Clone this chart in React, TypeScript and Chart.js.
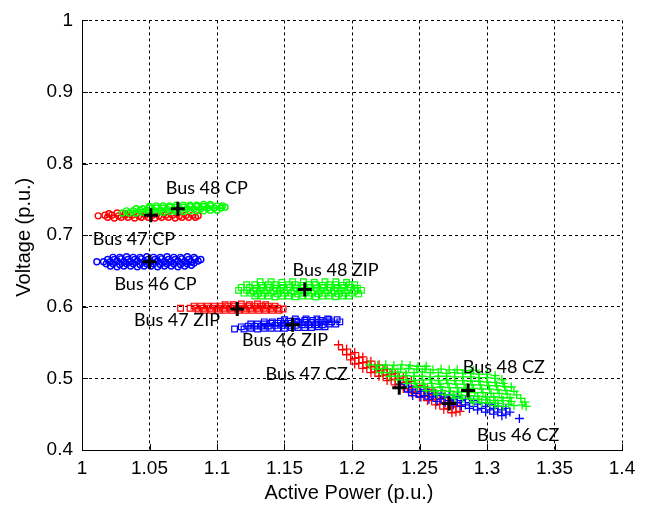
import { useEffect, useRef } from 'react';
import { Chart, registerables } from 'chart.js';

Chart.register(...registerables);

// ---- axis ticks ----
const xTickValues = [1, 1.05, 1.1, 1.15, 1.2, 1.25, 1.3, 1.35, 1.4];
const xTickLabels = ['1', '1.05', '1.1', '1.15', '1.2', '1.25', '1.3', '1.35', '1.4'];
const yTickValues = [0.4, 0.5, 0.6, 0.7, 0.8, 0.9, 1];
const yTickLabels = ['0.4', '0.5', '0.6', '0.7', '0.8', '0.9', '1'];
const xTitle = 'Active Power (p.u.)';
const yTitle = 'Voltage (p.u.)';

// ---- CP (constant power) clusters ----
const bus46CP = [
  [1.011, 0.663],
  [1.021, 0.657], [1.026, 0.656], [1.031, 0.657], [1.036, 0.657], [1.041, 0.656], [1.046, 0.657], [1.051, 0.657],
  [1.056, 0.656], [1.061, 0.657], [1.066, 0.657], [1.071, 0.656], [1.076, 0.657], [1.081, 0.658],
  [1.018, 0.660], [1.023, 0.660], [1.028, 0.659], [1.033, 0.660], [1.038, 0.660], [1.043, 0.659], [1.048, 0.660],
  [1.053, 0.660], [1.058, 0.659], [1.063, 0.660], [1.068, 0.660], [1.073, 0.659], [1.078, 0.660], [1.083, 0.661],
  [1.016, 0.663], [1.021, 0.663], [1.026, 0.664], [1.031, 0.663], [1.036, 0.663], [1.041, 0.664], [1.046, 0.663],
  [1.051, 0.663], [1.056, 0.664], [1.061, 0.663], [1.066, 0.663], [1.071, 0.664], [1.076, 0.663], [1.081, 0.663], [1.086, 0.664],
  [1.019, 0.666], [1.024, 0.666], [1.029, 0.667], [1.034, 0.666], [1.039, 0.666], [1.044, 0.667], [1.049, 0.666],
  [1.054, 0.666], [1.059, 0.667], [1.064, 0.666], [1.069, 0.666], [1.074, 0.667], [1.079, 0.666], [1.084, 0.667], [1.088, 0.666],
  [1.023, 0.669], [1.028, 0.669], [1.033, 0.670], [1.038, 0.669], [1.043, 0.669], [1.048, 0.670], [1.053, 0.669],
  [1.058, 0.669], [1.063, 0.670], [1.068, 0.669], [1.073, 0.669], [1.078, 0.670], [1.083, 0.669],
];
const bus47CP = [
  [1.012, 0.727],
  [1.019, 0.725], [1.024, 0.724], [1.029, 0.725], [1.034, 0.725], [1.039, 0.724], [1.044, 0.725], [1.049, 0.725],
  [1.054, 0.724], [1.059, 0.725], [1.064, 0.725], [1.069, 0.724], [1.074, 0.725], [1.079, 0.725], [1.084, 0.725],
  [1.017, 0.728], [1.022, 0.728], [1.027, 0.727], [1.032, 0.728], [1.037, 0.728], [1.042, 0.727], [1.047, 0.728],
  [1.052, 0.728], [1.057, 0.727], [1.062, 0.728], [1.067, 0.728], [1.072, 0.727], [1.077, 0.728], [1.082, 0.728], [1.086, 0.727],
  [1.020, 0.730], [1.026, 0.731], [1.032, 0.730],
];
const bus48CP = [
  [1.030, 0.731], [1.035, 0.731], [1.040, 0.731], [1.045, 0.732], [1.050, 0.732], [1.055, 0.732], [1.060, 0.732],
  [1.065, 0.733], [1.070, 0.733], [1.075, 0.733], [1.080, 0.734], [1.085, 0.734], [1.090, 0.734], [1.095, 0.735], [1.100, 0.735],
  [1.033, 0.734], [1.038, 0.734], [1.043, 0.735], [1.048, 0.735], [1.053, 0.735], [1.058, 0.735], [1.063, 0.736],
  [1.068, 0.736], [1.073, 0.736], [1.078, 0.737], [1.083, 0.737], [1.088, 0.737], [1.093, 0.738], [1.098, 0.738],
  [1.103, 0.738], [1.106, 0.739],
  [1.040, 0.737], [1.045, 0.737], [1.050, 0.738], [1.055, 0.738], [1.060, 0.738], [1.065, 0.739], [1.070, 0.739],
  [1.075, 0.739], [1.080, 0.740], [1.085, 0.740], [1.090, 0.740], [1.095, 0.741], [1.100, 0.741], [1.104, 0.741],
  [1.050, 0.740], [1.055, 0.741], [1.060, 0.741], [1.065, 0.741], [1.070, 0.742], [1.075, 0.742], [1.080, 0.742],
  [1.085, 0.742], [1.090, 0.743], [1.095, 0.743],
];

// ---- ZIP clusters ----
const bus46ZIP = [
  [1.113, 0.569], [1.120, 0.569], [1.125, 0.570], [1.130, 0.569], [1.135, 0.570], [1.140, 0.570], [1.145, 0.570],
  [1.150, 0.570], [1.155, 0.571], [1.160, 0.571], [1.165, 0.571], [1.170, 0.571], [1.175, 0.572], [1.180, 0.572],
  [1.118, 0.572], [1.123, 0.573], [1.128, 0.573], [1.133, 0.573], [1.138, 0.573], [1.143, 0.574], [1.148, 0.574],
  [1.153, 0.574], [1.158, 0.574], [1.163, 0.575], [1.168, 0.575], [1.173, 0.575], [1.178, 0.575], [1.183, 0.576], [1.188, 0.576],
  [1.125, 0.576], [1.130, 0.576], [1.135, 0.576], [1.140, 0.577], [1.145, 0.577], [1.150, 0.577], [1.155, 0.577],
  [1.160, 0.578], [1.165, 0.578], [1.170, 0.578], [1.175, 0.578], [1.180, 0.579], [1.185, 0.579], [1.191, 0.579],
  [1.135, 0.579], [1.141, 0.579], [1.147, 0.580], [1.153, 0.580], [1.159, 0.580], [1.165, 0.581], [1.171, 0.581],
  [1.177, 0.581], [1.183, 0.582], [1.189, 0.582],
  [1.150, 0.582], [1.158, 0.583], [1.166, 0.583], [1.174, 0.583], [1.182, 0.583],
];
const bus47ZIP = [
  [1.086, 0.595], [1.091, 0.595], [1.096, 0.595], [1.101, 0.595], [1.106, 0.595], [1.111, 0.595], [1.116, 0.595],
  [1.121, 0.595], [1.126, 0.595], [1.131, 0.595], [1.136, 0.595], [1.141, 0.595], [1.146, 0.595],
  [1.073, 0.598], [1.080, 0.598], [1.085, 0.598], [1.090, 0.598], [1.095, 0.598], [1.100, 0.598], [1.105, 0.598],
  [1.110, 0.598], [1.115, 0.598], [1.120, 0.598], [1.125, 0.598], [1.130, 0.598], [1.135, 0.598], [1.140, 0.598],
  [1.145, 0.598], [1.149, 0.597],
  [1.083, 0.601], [1.088, 0.601], [1.093, 0.601], [1.098, 0.601], [1.103, 0.601], [1.108, 0.601], [1.113, 0.601],
  [1.118, 0.601], [1.123, 0.601], [1.128, 0.601], [1.133, 0.601], [1.138, 0.601], [1.143, 0.601],
  [1.106, 0.603], [1.112, 0.603], [1.118, 0.604], [1.124, 0.603], [1.130, 0.604], [1.136, 0.603],
];
const bus48ZIP = [
  [1.128, 0.615], [1.133, 0.615], [1.138, 0.615], [1.143, 0.614], [1.148, 0.615], [1.153, 0.615], [1.158, 0.614],
  [1.163, 0.615], [1.168, 0.615], [1.173, 0.614], [1.178, 0.615], [1.183, 0.615], [1.188, 0.614], [1.193, 0.615], [1.198, 0.615],
  [1.120, 0.619], [1.125, 0.619], [1.130, 0.618], [1.135, 0.619], [1.140, 0.619], [1.145, 0.618], [1.150, 0.619],
  [1.155, 0.619], [1.160, 0.618], [1.165, 0.619], [1.170, 0.619], [1.175, 0.618], [1.180, 0.619], [1.185, 0.619],
  [1.190, 0.618], [1.195, 0.619], [1.200, 0.619], [1.205, 0.618],
  [1.116, 0.623], [1.122, 0.623], [1.127, 0.622], [1.132, 0.623], [1.137, 0.623], [1.142, 0.622], [1.147, 0.623],
  [1.152, 0.623], [1.157, 0.622], [1.162, 0.623], [1.167, 0.623], [1.172, 0.622], [1.177, 0.623], [1.182, 0.623],
  [1.187, 0.622], [1.192, 0.623], [1.197, 0.623], [1.202, 0.622], [1.207, 0.623],
  [1.118, 0.627], [1.124, 0.627], [1.129, 0.626], [1.134, 0.627], [1.139, 0.627], [1.144, 0.626], [1.149, 0.627],
  [1.154, 0.627], [1.159, 0.626], [1.164, 0.627], [1.169, 0.627], [1.174, 0.626], [1.179, 0.627], [1.184, 0.627],
  [1.189, 0.626], [1.194, 0.627], [1.199, 0.627], [1.204, 0.626],
  [1.122, 0.631], [1.128, 0.631], [1.133, 0.630], [1.138, 0.631], [1.143, 0.631], [1.148, 0.630], [1.153, 0.631],
  [1.158, 0.631], [1.163, 0.630], [1.168, 0.631], [1.173, 0.631], [1.178, 0.630], [1.183, 0.631], [1.188, 0.631],
  [1.193, 0.630], [1.198, 0.631], [1.202, 0.631],
  [1.132, 0.635], [1.140, 0.635], [1.148, 0.634], [1.156, 0.635], [1.164, 0.635], [1.172, 0.634], [1.180, 0.635],
  [1.188, 0.635], [1.196, 0.634],
];

// ---- CZ (constant impedance) clusters ----
const bus46CZ = [
  [1.236, 0.492], [1.242, 0.489], [1.248, 0.487], [1.254, 0.484], [1.260, 0.482], [1.266, 0.479], [1.272, 0.477],
  [1.278, 0.474], [1.284, 0.471], [1.290, 0.469], [1.296, 0.466], [1.302, 0.464], [1.308, 0.461], [1.314, 0.458],
  [1.239, 0.487], [1.245, 0.484], [1.251, 0.482], [1.257, 0.479], [1.263, 0.476], [1.269, 0.474], [1.275, 0.471],
  [1.281, 0.469], [1.287, 0.466], [1.293, 0.464], [1.299, 0.461], [1.305, 0.458], [1.311, 0.456], [1.317, 0.453],
  [1.242, 0.481], [1.248, 0.479], [1.254, 0.476], [1.260, 0.474], [1.266, 0.471], [1.272, 0.469], [1.278, 0.466],
  [1.284, 0.463], [1.290, 0.461], [1.296, 0.458], [1.302, 0.456], [1.308, 0.453], [1.314, 0.450],
  [1.245, 0.476], [1.251, 0.474], [1.257, 0.471], [1.263, 0.468], [1.269, 0.466], [1.275, 0.463], [1.281, 0.461],
  [1.287, 0.458], [1.293, 0.456], [1.299, 0.453], [1.305, 0.450], [1.311, 0.448],
  [1.324, 0.444],
];
const bus47CZ = [
  [1.190, 0.547], [1.196, 0.541], [1.202, 0.536], [1.208, 0.530], [1.214, 0.524], [1.220, 0.519], [1.226, 0.513],
  [1.232, 0.507], [1.238, 0.502], [1.244, 0.496], [1.250, 0.490], [1.256, 0.485], [1.262, 0.479], [1.268, 0.473],
  [1.274, 0.468], [1.280, 0.462],
  [1.193, 0.540], [1.199, 0.534], [1.205, 0.529], [1.211, 0.523], [1.217, 0.517], [1.223, 0.512], [1.229, 0.506],
  [1.235, 0.500], [1.241, 0.495], [1.247, 0.489], [1.253, 0.483], [1.259, 0.478], [1.265, 0.472], [1.271, 0.466], [1.277, 0.461],
  [1.196, 0.533], [1.202, 0.528], [1.208, 0.522], [1.214, 0.516], [1.220, 0.511], [1.226, 0.505], [1.232, 0.499],
  [1.238, 0.494], [1.244, 0.488], [1.250, 0.482], [1.256, 0.477], [1.262, 0.471], [1.268, 0.465], [1.274, 0.460], [1.280, 0.454],
  [1.199, 0.526], [1.205, 0.521], [1.211, 0.515], [1.217, 0.509], [1.223, 0.504], [1.229, 0.498], [1.235, 0.492],
  [1.241, 0.487], [1.247, 0.481], [1.253, 0.475], [1.259, 0.470], [1.265, 0.464], [1.271, 0.458], [1.277, 0.453],
  [1.202, 0.520], [1.208, 0.514], [1.214, 0.508], [1.220, 0.503], [1.226, 0.497], [1.232, 0.491], [1.238, 0.486],
  [1.244, 0.480], [1.250, 0.474], [1.256, 0.469], [1.262, 0.463], [1.268, 0.457], [1.274, 0.452],
];
const bus48CZ = [
  [1.213, 0.519], [1.219, 0.518], [1.225, 0.519], [1.231, 0.518], [1.237, 0.519], [1.243, 0.518], [1.249, 0.517], [1.255, 0.517],
  [1.218, 0.513], [1.224, 0.514], [1.230, 0.513], [1.236, 0.513], [1.242, 0.514], [1.248, 0.513], [1.254, 0.513],
  [1.260, 0.512], [1.266, 0.513], [1.272, 0.512], [1.278, 0.512], [1.284, 0.511], [1.290, 0.511],
  [1.222, 0.508], [1.228, 0.508], [1.234, 0.509], [1.240, 0.508], [1.246, 0.508], [1.252, 0.509], [1.258, 0.508],
  [1.264, 0.508], [1.270, 0.507], [1.276, 0.508], [1.282, 0.507], [1.288, 0.507], [1.294, 0.506], [1.300, 0.506], [1.306, 0.504],
  [1.228, 0.503], [1.234, 0.503], [1.240, 0.504], [1.246, 0.503], [1.252, 0.503], [1.258, 0.502], [1.264, 0.503],
  [1.270, 0.503], [1.276, 0.502], [1.282, 0.502], [1.288, 0.502], [1.294, 0.501], [1.300, 0.501], [1.306, 0.500], [1.311, 0.498],
  [1.234, 0.498], [1.240, 0.498], [1.246, 0.497], [1.252, 0.498], [1.258, 0.498], [1.264, 0.497], [1.270, 0.498],
  [1.276, 0.497], [1.282, 0.497], [1.288, 0.496], [1.294, 0.496], [1.300, 0.495], [1.306, 0.494], [1.312, 0.493],
  [1.241, 0.493], [1.247, 0.493], [1.253, 0.492], [1.259, 0.493], [1.265, 0.492], [1.271, 0.493], [1.277, 0.492],
  [1.283, 0.492], [1.289, 0.491], [1.295, 0.491], [1.301, 0.490], [1.307, 0.490], [1.313, 0.489], [1.318, 0.488],
  [1.248, 0.488], [1.254, 0.488], [1.260, 0.487], [1.266, 0.488], [1.272, 0.487], [1.278, 0.487], [1.284, 0.486],
  [1.290, 0.486], [1.296, 0.485], [1.302, 0.485], [1.308, 0.484], [1.314, 0.483], [1.320, 0.482],
  [1.255, 0.483], [1.261, 0.482], [1.267, 0.483], [1.273, 0.482], [1.279, 0.481], [1.285, 0.481], [1.291, 0.480],
  [1.297, 0.480], [1.303, 0.479], [1.309, 0.479], [1.315, 0.478], [1.322, 0.477],
  [1.263, 0.478], [1.269, 0.477], [1.275, 0.477], [1.281, 0.476], [1.287, 0.476], [1.293, 0.475], [1.299, 0.474],
  [1.305, 0.474], [1.311, 0.473], [1.317, 0.473], [1.325, 0.472],
  [1.276, 0.473], [1.282, 0.472], [1.288, 0.471], [1.294, 0.471], [1.300, 0.470], [1.306, 0.469], [1.312, 0.469],
  [1.318, 0.468], [1.328, 0.467],
  [1.290, 0.467], [1.296, 0.466], [1.302, 0.466], [1.308, 0.465], [1.316, 0.464], [1.326, 0.463],
  [1.306, 0.462], [1.312, 0.461], [1.320, 0.462], [1.329, 0.461],
];

// ---- mean operating points (black +) ----
const meanX = [1.071, 1.051, 1.050, 1.165, 1.115, 1.156, 1.235, 1.286, 1.272];
const meanY = [0.737, 0.728, 0.663, 0.624, 0.597, 0.575, 0.487, 0.483, 0.465];

// ---- text labels (data coordinates of left edge / vertical centre) ----
const labelTexts = ['Bus 48 CP', 'Bus 47 CP', 'Bus 46 CP', 'Bus 48 ZIP', 'Bus 47 ZIP', 'Bus 46 ZIP', 'Bus 47 CZ', 'Bus 48 CZ', 'Bus 46 CZ'];
const labelX = [1.062, 1.008, 1.024, 1.156, 1.0385, 1.1185, 1.136, 1.282, 1.2926];
const labelY = [0.765, 0.6946, 0.6314, 0.6506, 0.582, 0.553, 0.506, 0.5158, 0.421];

const RED = '#ff0000';
const GREEN = '#00ff00';
const BLUE = '#0000ff';

const toPts = (arr: number[][]) => arr.map(([x, y]) => ({ x, y }));

const TICK_FONT = { family: "'Liberation Sans', Arial, sans-serif", size: 19 };

const decorPlugin = {
  id: 'decor',
  afterDraw(chart: any) {
    const { ctx, chartArea, scales } = chart;
    const xs = scales.x;
    const ys = scales.y;
    ctx.save();
    // inward tick marks
    ctx.strokeStyle = '#000';
    ctx.lineWidth = 1;
    ctx.setLineDash([]);
    ctx.beginPath();
    xTickValues.forEach((v) => {
      const px = Math.round(xs.getPixelForValue(v)) + 0.5;
      ctx.moveTo(px, chartArea.bottom);
      ctx.lineTo(px, chartArea.bottom - 6);
    });
    yTickValues.forEach((v) => {
      const py = Math.round(ys.getPixelForValue(v)) + 0.5;
      ctx.moveTo(chartArea.left, py);
      ctx.lineTo(chartArea.left + 6, py);
    });
    ctx.stroke();
    // axis titles
    ctx.fillStyle = '#000';
    ctx.font = "20px 'Liberation Sans', Arial, sans-serif";
    ctx.textAlign = 'center';
    ctx.textBaseline = 'middle';
    ctx.fillText(xTitle, (chartArea.left + chartArea.right) / 2 - 3, 493);
    ctx.save();
    ctx.translate(24, (chartArea.top + chartArea.bottom) / 2 + 2);
    ctx.rotate(-Math.PI / 2);
    ctx.fillText(yTitle, 0, 0);
    ctx.restore();
    // cluster labels
    ctx.font = "18px Lato, 'Open Sans', sans-serif";
    ctx.textAlign = 'left';
    ctx.textBaseline = 'middle';
    labelTexts.forEach((t, i) => {
      ctx.fillText(t, xs.getPixelForValue(labelX[i]), ys.getPixelForValue(labelY[i]));
    });
    ctx.restore();
  },
};

export default function App() {
  const ref = useRef<HTMLCanvasElement>(null);
  useEffect(() => {
    if (!ref.current) return;
    const mk = (data: number[][], color: string, style: string, radius: number, bw: number, order: number) => ({
      data: toPts(data),
      pointStyle: style,
      pointRadius: radius,
      pointBorderWidth: bw,
      borderColor: color,
      backgroundColor: 'rgba(0,0,0,0)',
      showLine: false,
      order,
    });
    const chart = new Chart(ref.current, {
      type: 'scatter',
      data: {
        datasets: [
          {
            data: meanX.map((x, i) => ({ x, y: meanY[i] })),
            pointStyle: 'cross',
            pointRadius: 7,
            pointBorderWidth: 3,
            borderColor: '#000',
            backgroundColor: '#000',
            showLine: false,
            order: 0,
          } as any,
          mk(bus48CP, GREEN, 'circle', 3, 1.4, 1),
          mk(bus48ZIP, GREEN, 'rect', 4, 1.2, 1),
          mk(bus48CZ, GREEN, 'cross', 4.5, 1.3, 1),
          mk(bus46CP, BLUE, 'circle', 3, 1.4, 2),
          mk(bus46ZIP, BLUE, 'rect', 4, 1.2, 2),
          mk(bus46CZ, BLUE, 'cross', 4.5, 1.3, 2),
          mk(bus47CP, RED, 'circle', 3, 1.4, 3),
          mk(bus47ZIP, RED, 'rect', 4, 1.2, 3),
          mk(bus47CZ, RED, 'cross', 4.5, 1.3, 3),
        ],
      },
      options: {
        responsive: false,
        animation: false,
        events: [],
        layout: { padding: { top: 14, right: 29, left: 0, bottom: 0 } },
        plugins: { legend: { display: false }, tooltip: { enabled: false } },
        scales: {
          x: {
            type: 'linear',
            min: 1,
            max: 1.4,
            afterBuildTicks: (s: any) => {
              s.ticks = xTickValues.map((v) => ({ value: v }));
            },
            afterFit: (s: any) => {
              s.height = 58;
            },
            ticks: {
              callback: (_v: any, i: number) => xTickLabels[i],
              font: TICK_FONT,
              color: '#000',
              padding: 7,
              maxRotation: 0,
              autoSkip: false,
            },
            grid: { color: '#000', lineWidth: 1, drawTicks: false },
            border: { color: '#000', width: 1, dash: [3, 3] },
          },
          y: {
            type: 'linear',
            min: 0.4,
            max: 1,
            afterBuildTicks: (s: any) => {
              s.ticks = yTickValues.map((v) => ({ value: v }));
            },
            afterFit: (s: any) => {
              s.width = 82;
            },
            ticks: {
              callback: (_v: any, i: number) => yTickLabels[i],
              font: TICK_FONT,
              color: '#000',
              padding: 9,
              autoSkip: false,
            },
            grid: { color: '#000', lineWidth: 1, drawTicks: false },
            border: { color: '#000', width: 1, dash: [3, 3] },
          },
        },
      } as any,
      plugins: [decorPlugin],
    });
    return () => chart.destroy();
  }, []);
  return (
    <div style={{ position: 'absolute', left: 0, top: 0, width: 651, height: 508, background: '#fff' }}>
      <canvas ref={ref} width={651} height={508} style={{ display: 'block' }} />
    </div>
  );
}
